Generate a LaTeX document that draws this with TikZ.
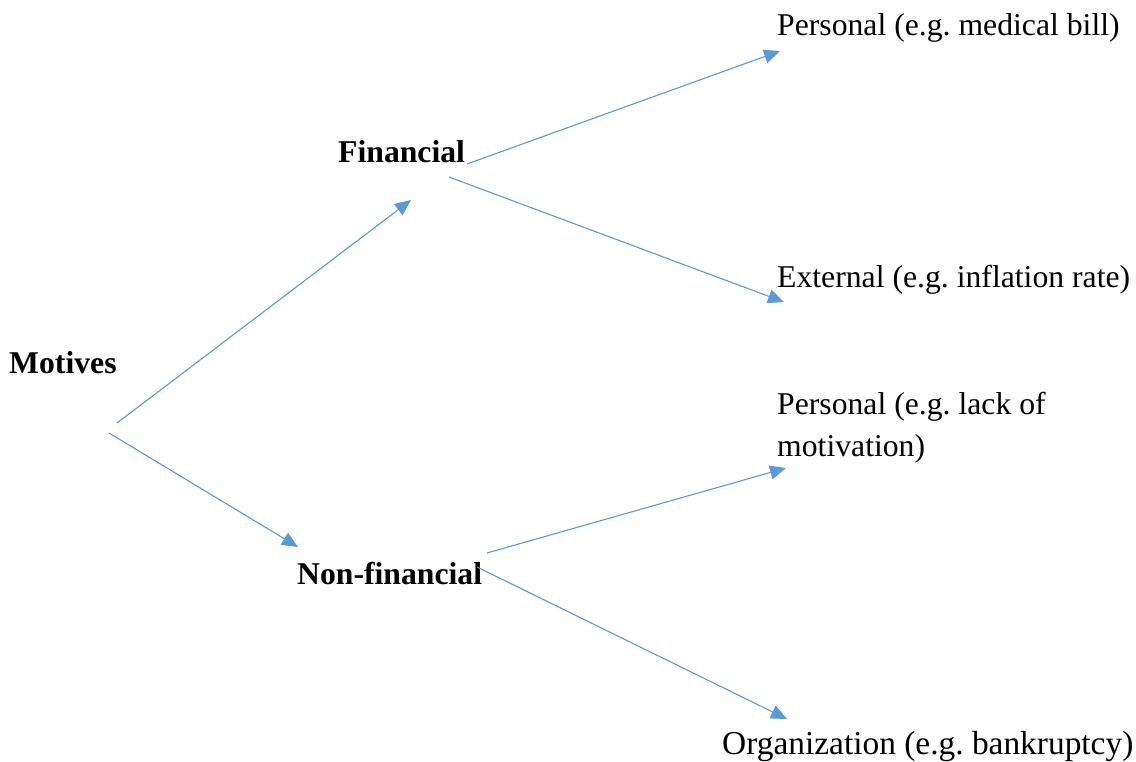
\documentclass[tikz,border=0pt]{standalone}
\usepackage{fontspec}
\setmainfont{Liberation Serif}
\usetikzlibrary{arrows.meta}
\definecolor{arrblue}{HTML}{5B9BD5}
\tikzset{
  lbl/.style={inner sep=0pt, anchor=base west, font=\fontsize{31.7}{42}\selectfont\frenchspacing},
  hd/.style={lbl, font=\fontsize{31.7}{42}\selectfont\bfseries},
  arr/.style={draw=arrblue, line width=1.1pt, -{Triangle[length=16pt,width=14pt]}, arrblue}
}
\begin{document}
\begin{tikzpicture}[x=1pt,y=-1pt]
\useasboundingbox (0,0) rectangle (1136,761);
% text nodes
\node[hd] (mot) at (9,373) {Motives};
\node[hd] (fin) at (338,162) {Financial};
\node[hd] (non) at (297,584) {Non-financial};
\node[lbl] (p1) at (777,35) {Personal (e.g. medical bill)};
\node[lbl] (ext) at (777,287) {External (e.g. inflation rate)};
\node[lbl] (p2) at (777,414) {\parbox[t]{330pt}{\fontsize{31.7}{42}\selectfont\frenchspacing Personal (e.g. lack of\\motivation)}};
\node[lbl, font=\fontsize{33.4}{42}\selectfont\frenchspacing] (org) at (722,754) {Organization (e.g. bankruptcy)};
% connector ends
\coordinate (motA) at (117,423);
\coordinate (motB) at (109,433);
\coordinate (finIn) at (411,200);
\coordinate (nonIn) at (298,547);
\coordinate (finA) at (467,164);
\coordinate (finB) at (449,177);
\coordinate (p1In) at (780,51);
\coordinate (extIn) at (784,302);
\coordinate (nonA) at (487,553);
\coordinate (nonB) at (477,567);
\coordinate (p2In) at (786,468);
\coordinate (orgIn) at (787,719);
% connectors
\draw[arr] (motA) -- (finIn);
\draw[arr] (motB) -- (nonIn);
\draw[arr] (finA) -- (p1In);
\draw[arr] (finB) -- (extIn);
\draw[arr] (nonA) -- (p2In);
\draw[arr] (nonB) -- (orgIn);
\end{tikzpicture}
\end{document}
